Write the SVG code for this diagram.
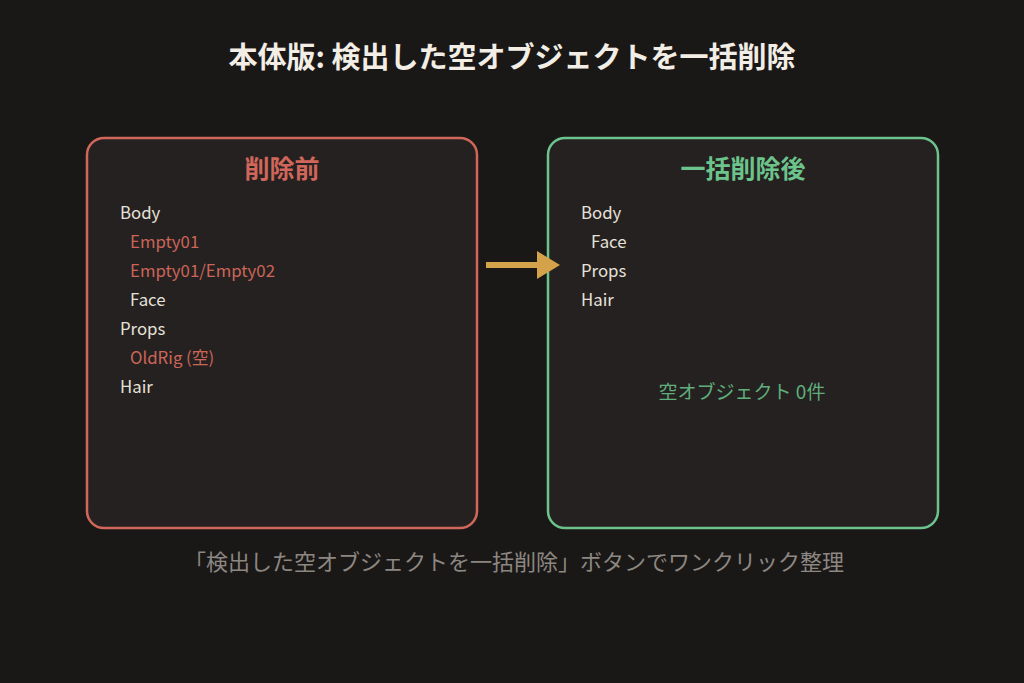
<svg xmlns="http://www.w3.org/2000/svg" width="1024" height="683" viewBox="0 0 1024 683">
<style>
text{font-family:"Noto Sans CJK JP","Noto Sans",sans-serif;}
.title{font-size:29px;font-weight:bold;fill:#f2eee6;text-anchor:middle;}
.head{font-size:25px;font-weight:bold;text-anchor:middle;}
.item{font-size:16.8px;fill:#e6e2da;}
.del{fill:#cc6558;}
.box{fill:#252120;stroke-width:2.5;}
.foot{font-size:22px;fill:#8c8781;text-anchor:middle;}
</style>
<rect x="0" y="0" width="1024" height="683" fill="#1a1817"/>
<text class="title" x="512" y="68">本体版: 検出した空オブジェクトを一括削除</text>
<g id="before">
<rect class="box" x="87" y="138" width="390" height="390" rx="17" stroke="#d0675a"/>
<text class="head" x="282" y="178" fill="#d0675a">削除前</text>
<text class="item" x="120" y="219">Body</text>
<text class="item del" x="130" y="248">Empty01</text>
<text class="item del" x="130" y="277">Empty01/Empty02</text>
<text class="item" x="130" y="306">Face</text>
<text class="item" x="120" y="335">Props</text>
<text class="item del" x="130" y="364">OldRig (空)</text>
<text class="item" x="120" y="393">Hair</text>
</g>
<g id="after">
<rect class="box" x="548" y="138" width="390" height="390" rx="17" stroke="#6cc48c"/>
<text class="head" x="743" y="178" fill="#6cc48c">一括削除後</text>
<text class="item" x="581" y="219">Body</text>
<text class="item" x="591" y="248">Face</text>
<text class="item" x="581" y="277">Props</text>
<text class="item" x="581" y="306">Hair</text>
<text x="742" y="399" font-size="19" fill="#5fae7c" text-anchor="middle">空オブジェクト 0件</text>
</g>
<g id="connectors">
<path d="M486 265 H540" stroke="#d4a24a" stroke-width="6" fill="none"/>
<polygon points="537,251 560,265 537,279" fill="#d4a24a"/>
</g>
<text class="foot" x="514" y="570">「検出した空オブジェクトを一括削除」ボタンでワンクリック整理</text>
</svg>
